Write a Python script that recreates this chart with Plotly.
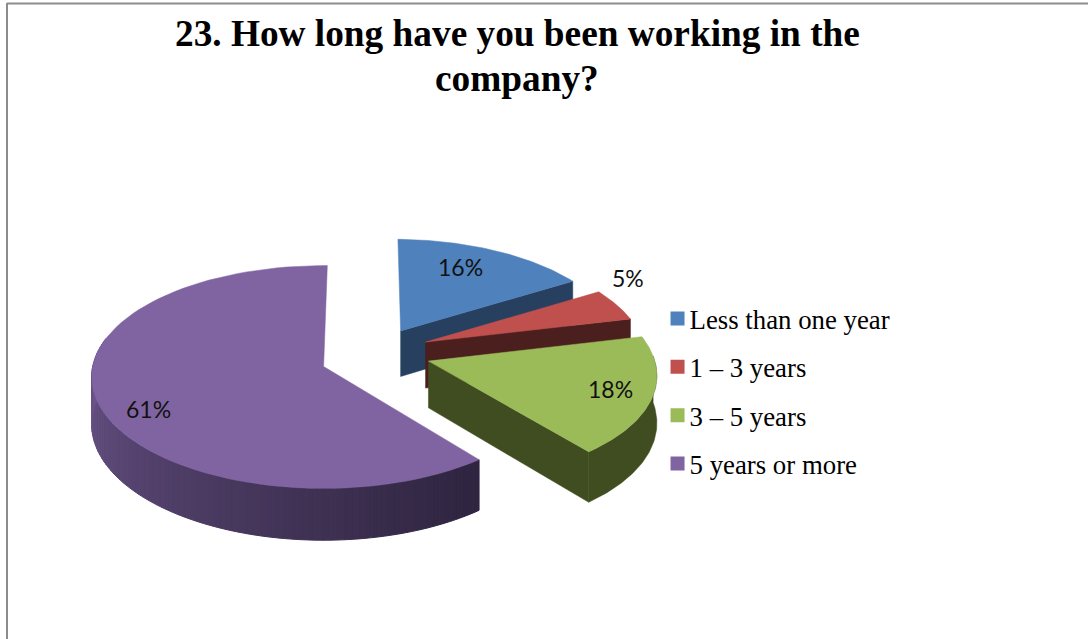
import numpy as np
import plotly.graph_objects as go

# Data
categories = ["Less than one year", "1 – 3 years", "3 – 5 years", "5 years or more"]
values = [16, 5, 18, 61]
value_labels = ["16%", "5%", "18%", "61%"]
title_lines = ["23. How long have you been working in the", "company?"]

# Styles
top_colors = ["#4F81BD", "#C0504D", "#9BBB59", "#8064A2"]
wall_colors = ["#27405F", "#4B1F1D", "#404D20", "#2F2540"]
label_radius = [0.745, 1.181, 0.773, 0.822]
label_angle = [22.8, 54.2, 104.9, 243.2]
slice_radius = [0.96, 0.96, 0.985, 1.0]
slice_shift_u = [-0.017, -0.017, -0.017, 0.0]
slice_shift_v = [0.035, 0.05, 0.05, 0.0]

# Projection of the tilted pie into the page
W, H = 1088, 639
AX, AY = 324.0, 367.0
BX, BY, K = 231.0, 110.5, 0.094
DEPTH = 47.0
CU, CV = 0.235, 0.085
PULL = 0.25
START = 1.0


def project(u, v, drop=0.0):
    w = 1 + K * v
    return AX + BX * u / w, AY - BY * v / w + drop / w


def arc(a0, a1, n=80):
    return np.radians(np.linspace(a0, a1, n))


fig = go.Figure()
total = sum(values)
angles = np.cumsum([0] + values) / total * 360 + START

for i, cat in enumerate(categories):
    a0, a1 = angles[i], angles[i + 1]
    mid = np.radians((a0 + a1) / 2)
    base_u = CU + PULL * np.sin(mid)
    base_v = CV + PULL * np.cos(mid)
    cu = base_u + slice_shift_u[i]
    cv = base_v + slice_shift_v[i]
    r = slice_radius[i]
    th = arc(a0, a1)
    us = cu + r * np.sin(th)
    vs = cv + r * np.cos(th)

    if i < 3:
        ex, ey = project(us[-1], vs[-1])
        ex2, ey2 = project(us[-1], vs[-1], DEPTH)
        ax, ay = project(cu, cv)
        ax2, ay2 = project(cu, cv, DEPTH)
        fig.add_trace(go.Scatter(x=[ax, ex, ex2, ax2, ax], y=[ay, ey, ey2, ay2, ay], mode="lines",
                                 fill="toself", fillcolor=wall_colors[i], line=dict(color=wall_colors[i], width=0.5),
                                 showlegend=False, hoverinfo="skip"))

    if i == 2:
        rim_th = th[np.cos(th) < 0.05]
        ru, rv = cu + r * np.sin(rim_th), cv + r * np.cos(rim_th)
        tx, ty = project(ru, rv)
        bx, by = project(ru, rv, DEPTH)
        fig.add_trace(go.Scatter(x=np.r_[tx, bx[::-1], tx[0]], y=np.r_[ty, by[::-1], ty[0]], mode="lines",
                                 fill="toself", fillcolor=wall_colors[i], line=dict(color=wall_colors[i], width=0.5),
                                 showlegend=False, hoverinfo="skip"))
    if i == 3:
        fine = arc(a0, 285, 90)
        c_dark = np.array([47, 37, 64])
        c_light = np.array([112, 88, 143])
        for j in range(len(fine) - 1):
            seg = np.array([fine[j], fine[j + 1]])
            ru, rv = cu + r * np.sin(seg), cv + r * np.cos(seg)
            tx, ty = project(ru, rv)
            bx, by = project(ru, rv, DEPTH)
            t = (j / (len(fine) - 2)) ** 1.1
            c = (c_dark + (c_light - c_dark) * t).astype(int)
            col = f"rgb({c[0]},{c[1]},{c[2]})"
            fig.add_trace(go.Scatter(x=np.r_[tx, bx[::-1], tx[0]], y=np.r_[ty, by[::-1], ty[0]], mode="lines",
                                     fill="toself", fillcolor=col, line=dict(color=col, width=1),
                                     showlegend=False, hoverinfo="skip"))

    px, py = project(np.r_[cu, us, cu], np.r_[cv, vs, cv])
    fig.add_trace(go.Scatter(x=px, y=py, mode="lines", fill="toself", fillcolor=top_colors[i],
                             line=dict(color=top_colors[i], width=0.5), showlegend=False,
                             name=cat, hoverinfo="name"))

    la = np.radians(label_angle[i])
    lx, ly = project(base_u + label_radius[i] * np.sin(la), base_v + label_radius[i] * np.cos(la))
    fig.add_annotation(x=lx, y=ly, text=value_labels[i], showarrow=False,
                       font=dict(family="Lato, Open Sans, sans-serif", size=23, color="#111111"))

for i, cat in enumerate(categories):
    fig.add_trace(go.Scatter(x=[None], y=[None], mode="markers", name=cat, legendgroup=cat,
                             marker=dict(symbol="square", size=14, color=top_colors[i])))

title_font = dict(family="Liberation Serif", size=37.3, color="black")
fig.update_layout(
    width=W, height=H, margin=dict(l=0, r=0, t=0, b=0),
    paper_bgcolor="white", plot_bgcolor="white",
    xaxis=dict(range=[0, W], visible=False, fixedrange=True),
    yaxis=dict(range=[H, 0], visible=False, fixedrange=True),
    legend=dict(x=0.597, y=0.539, xanchor="left", yanchor="top", tracegroupgap=10.5,
                font=dict(family="Liberation Serif", size=26.8, color="black"),
                bgcolor="rgba(0,0,0,0)", itemwidth=30),
    annotations=list(fig.layout.annotations) + [
        dict(x=517, y=33, xref="x", yref="y", text=f"<b>{title_lines[0]}</b>", showarrow=False, font=title_font),
        dict(x=517, y=78, xref="x", yref="y", text=f"<b>{title_lines[1]}</b>", showarrow=False, font=title_font)],
    shapes=[
        dict(type="line", x0=7, x1=7, y0=3, y1=H, xref="x", yref="y", line=dict(color="#8C8C8C", width=2)),
        dict(type="line", x0=7, x1=W, y0=3.5, y1=3.5, xref="x", yref="y", line=dict(color="#8C8C8C", width=2)),
    ],
)
post = ("document.body.style.margin='0';"
        "document.querySelectorAll('.legendpoints').forEach(function(g){g.setAttribute('transform','translate(8,0)');});")
fig.write_html("out.html", post_script=post, config={"displayModeBar": False})
